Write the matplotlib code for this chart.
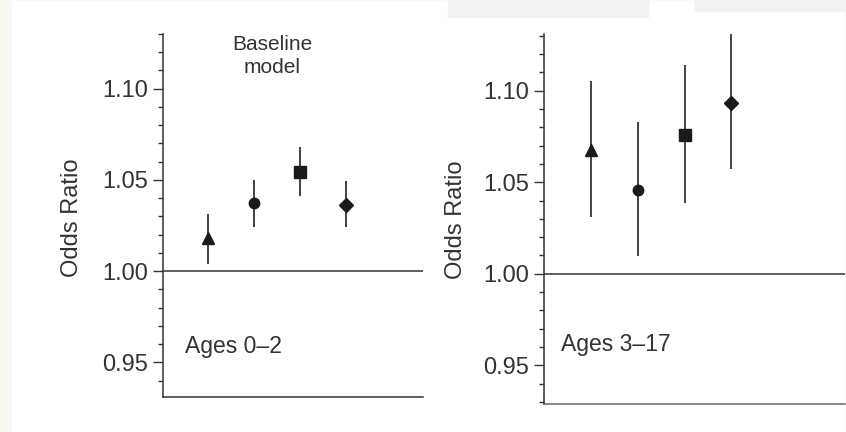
import matplotlib.pyplot as plt
from matplotlib.patches import Rectangle
from matplotlib.ticker import MultipleLocator, FixedLocator

plt.rcParams['font.family'] = ['Liberation Sans', 'DejaVu Sans']

# marker order: triangle, circle, square, diamond
markers = ['^', 'o', 's', 'D']
msizes = [8.5, 7.5, 9, 7]
xpos = [1, 2, 3, 4]

# ages 0-2 (baseline model)
or_young = [1.018, 1.0375, 1.0546, 1.0364]
lo_young = [1.0037, 1.024, 1.0412, 1.024]
hi_young = [1.0313, 1.050, 1.0683, 1.0493]

# ages 3-17
or_old = [1.0676, 1.0459, 1.0756, 1.0931]
lo_old = [1.031, 1.0095, 1.0386, 1.0574]
hi_old = [1.1053, 1.0827, 1.1142, 1.14]

major_ticks = [0.95, 1.00, 1.05, 1.10]
tick_labels = ['0.95', '1.00', '1.05', '1.10']

W, H = 846, 432
fig = plt.figure(figsize=(W / 100, H / 100), dpi=100)
fig.patch.set_facecolor('#f9f9f2')
fig.patches.append(Rectangle((12 / W, 0), (844 - 12) / W, 1 - 1 / H,
                             transform=fig.transFigure, color='white', zorder=-10))
fig.patches.append(Rectangle((448 / W, 1 - 17 / H), 200 / W, 17 / H,
                             transform=fig.transFigure, color='#f2f2f4', zorder=-5))
fig.patches.append(Rectangle((695 / W, 1 - 11 / H), 150 / W, 11 / H,
                             transform=fig.transFigure, color='#f2f2f4', zorder=-5))


def box(x0, y0, x1, y1):
    return [x0 / W, 1 - y1 / H, (x1 - x0) / W, (y1 - y0) / H]


def panel(rect, vals, lo, hi, xlim, ylim, bottom_col):
    ax = fig.add_axes(rect)
    ax.patch.set_alpha(0)
    for x, v, l, h, m, s in zip(xpos, vals, lo, hi, markers, msizes):
        ax.vlines(x, l, h, color='#222222', lw=1.2, zorder=2)
        ax.plot(x, v, marker=m, ms=s, color='#1a1a1a', ls='none', zorder=3)
    ax.axhline(1.0, color='#444444', lw=1.2, zorder=1)
    ax.set_xlim(*xlim)
    ax.set_ylim(*ylim)
    ax.yaxis.set_major_locator(FixedLocator(major_ticks))
    ax.set_yticklabels(tick_labels)
    ax.yaxis.set_minor_locator(MultipleLocator(0.01))
    ax.set_xticks([])
    ax.spines['top'].set_visible(False)
    ax.spines['right'].set_visible(False)
    ax.spines['left'].set_color('#333333')
    ax.spines['left'].set_linewidth(1.1)
    ax.spines['bottom'].set_color(bottom_col)
    ax.spines['bottom'].set_linewidth(1.1)
    ax.tick_params(axis='y', which='major', length=7, width=1, color='#333333',
                   labelsize=17, labelcolor='#333333', pad=4)
    ax.tick_params(axis='y', which='minor', length=3.5, width=1, color='#333333')
    return ax


ax1 = panel(box(163, 34, 423, 397), or_young, lo_young, hi_young,
            (0.02, 5.67), (0.931, 1.130), '#333333')
ax2 = panel(box(544, 34, 845, 404), or_old, lo_old, hi_old,
            (-0.01, 6.43), (0.9288, 1.131), '#666666')

fig.text(72 / W, 1 - 218 / H, 'Odds Ratio', rotation=90, ha='center', va='center',
         fontsize=17, color='#333333')
fig.text(456 / W, 1 - 220 / H, 'Odds Ratio', rotation=90, ha='center', va='center',
         fontsize=17, color='#333333')
fig.text(272 / W, 1 - 56 / H, 'Baseline\nmodel', ha='center', va='center',
         fontsize=15, color='#333333', linespacing=1.25)
fig.text(185 / W, 1 - 346 / H, 'Ages 0\u20132', ha='left', va='center',
         fontsize=16.5, color='#333333')
fig.text(561 / W, 1 - 345 / H, 'Ages 3\u201317', ha='left', va='center',
         fontsize=16.5, color='#333333')

fig.savefig('out.png', dpi=100, facecolor=fig.get_facecolor())
